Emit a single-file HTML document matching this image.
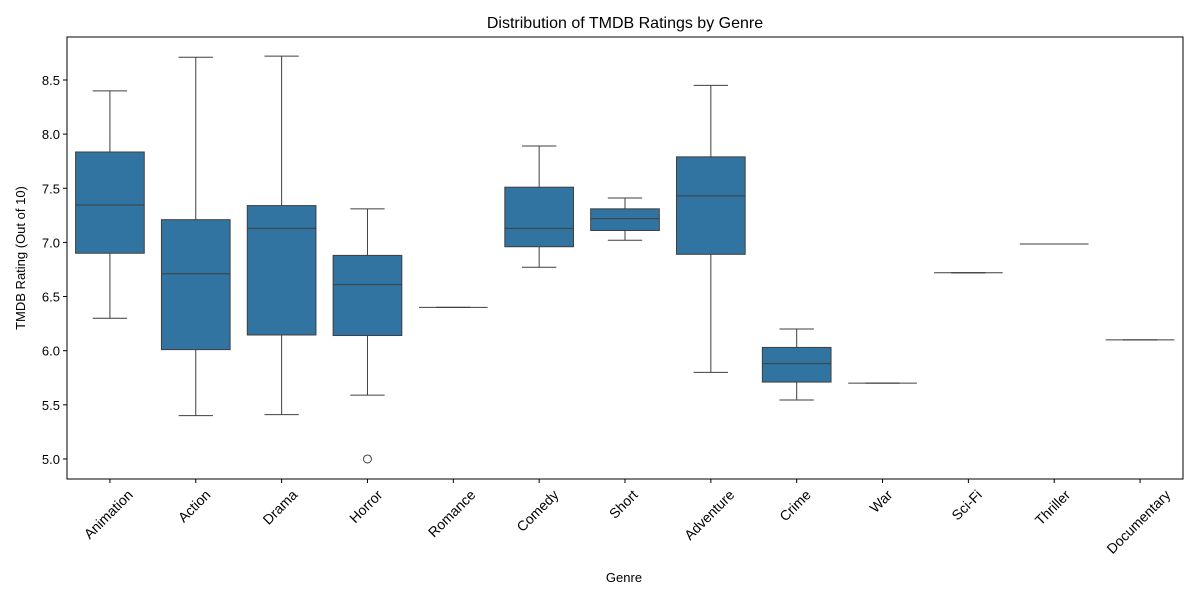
<!DOCTYPE html>
<html><head><meta charset="utf-8"><style>
body{margin:0;background:#fff;}
svg text{font-family:"Liberation Sans","DejaVu Sans",sans-serif;fill:#000;}
</style></head><body>
<svg id="chart" width="1200" height="600" xmlns="http://www.w3.org/2000/svg">
<rect width="1200" height="600" fill="#fff"/>
<text x="625" y="28" font-size="16" text-anchor="middle">Distribution of TMDB Ratings by Genre</text>
<text x="624" y="582" font-size="13" text-anchor="middle">Genre</text>
<text transform="translate(25,258) rotate(-90)" font-size="13" text-anchor="middle">TMDB Rating (Out of 10)</text>
<g id="plot"></g>
<rect x="67" y="37" width="1116" height="442" fill="none" stroke="#000" stroke-width="1"/>
</svg>
<script>
const genres=["Animation","Action","Drama","Horror","Romance","Comedy","Short","Adventure","Crime","War","Sci-Fi","Thriller","Documentary"];
const whiskerLow=[6.30,5.40,5.41,5.59,6.40,6.77,7.02,5.80,5.545,5.70,6.72,6.985,6.10];
const q1=[6.90,6.01,6.145,6.14,6.40,6.96,7.11,6.89,5.71,5.70,6.72,6.985,6.10];
const median=[7.346,6.71,7.13,6.61,6.40,7.13,7.22,7.43,5.88,5.70,6.72,6.985,6.10];
const q3=[7.835,7.21,7.34,6.88,6.40,7.51,7.31,7.79,6.03,5.70,6.72,6.985,6.10];
const whiskerHigh=[8.40,8.71,8.72,7.31,6.40,7.89,7.41,8.45,6.20,5.70,6.72,6.985,6.10];
const outlierGenre=[3];
const outlierValue=[5.0];
const yTicks=[5.0,5.5,6.0,6.5,7.0,7.5,8.0,8.5];

const L=67,R=1183,T=37,B=479,yMin=4.815,yMax=8.897;
const y=v=>B-(v-yMin)/(yMax-yMin)*(B-T);
const step=(R-L)/genres.length;
const x=i=>L+step*(i+0.5);
const NS="http://www.w3.org/2000/svg";
const g=document.getElementById('plot');
function mk(tag,attrs){const e=document.createElementNS(NS,tag);for(const k in attrs)e.setAttribute(k,attrs[k]);g.appendChild(e);return e;}
yTicks.forEach(t=>{
  const l=mk('line',{x1:L-4,x2:L,y1:y(t),y2:y(t),stroke:'#000'});
  
  
  const tx=mk('text',{x:L-7,y:y(t)+5,'font-size':13,'text-anchor':'end'});
  tx.textContent=t.toFixed(1);
  
  
});
const bw=step*0.8,cw=bw/2;
genres.forEach((name,i)=>{
  const cx=x(i),c='#3f3f3f';
  const tk=mk('line',{x1:cx,x2:cx,y1:B,y2:B+4,stroke:'#000'});
  
  
  const lb=mk('text',{'font-size':14,'text-anchor':'middle'});
  lb.textContent=name;
  
  
  const w=lb.getComputedTextLength();
  const half=(w+14)*0.7071/2;
  lb.setAttribute('transform',`translate(${cx-1},${B+9+half}) rotate(-45)`);
  lb.setAttribute('dy','4');
  const w1=mk('line',{x1:cx,x2:cx,y1:y(whiskerLow[i]),y2:y(q1[i]),stroke:c});
  
  
  const w2=mk('line',{x1:cx,x2:cx,y1:y(q3[i]),y2:y(whiskerHigh[i]),stroke:c});
  
  
  const c1=mk('line',{x1:cx-cw/2,x2:cx+cw/2,y1:y(whiskerLow[i]),y2:y(whiskerLow[i]),stroke:c});
  
  
  const c2=mk('line',{x1:cx-cw/2,x2:cx+cw/2,y1:y(whiskerHigh[i]),y2:y(whiskerHigh[i]),stroke:c});
  
  
  const bx=mk('rect',{x:cx-bw/2,y:y(q3[i]),width:bw,height:Math.max(0,y(q1[i])-y(q3[i])),fill:'#3274a1',stroke:c});
  
  
  const md=mk('line',{x1:cx-bw/2,x2:cx+bw/2,y1:y(median[i]),y2:y(median[i]),stroke:c});
  
  
});
outlierGenre.forEach((gi,k)=>{
  const o=mk('circle',{cx:x(gi),cy:y(outlierValue[k]),r:4,fill:'none',stroke:'#3f3f3f'});
  
  
});
</script>
</body></html>
